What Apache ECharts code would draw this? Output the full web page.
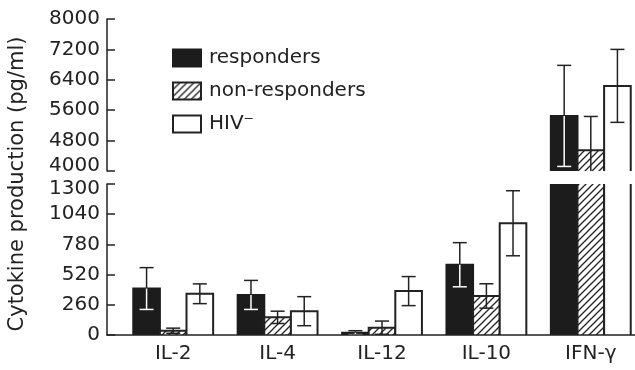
<!DOCTYPE html>
<html>
<head>
<meta charset="utf-8">
<script src="https://cdn.jsdelivr.net/npm/echarts@6/dist/echarts.min.js"></script>
<style>
html,body{margin:0;padding:0;background:#fff;}
#chart{width:635px;height:370px;}
</style>
</head>
<body>
<div id="chart"></div>
<script>
// ---- data ----
const categories = ['IL-2', 'IL-4', 'IL-12', 'IL-10', 'IFN-γ'];
const seriesNames = ['responders', 'non-responders', 'HIV⁻'];
const respondersMean = [400, 345, 20, 605, 5450];
const respondersErr = [180, 125, 17, 190, 1330];
const nonRespondersMean = [37, 152, 63, 336, 4545];
const nonRespondersErr = [22, 53, 57, 105, 890];
const hivNegMean = [355, 205, 378, 962, 6240];
const hivNegErr = [85, 125, 125, 280, 960];
const upperTicks = [4000, 8000, 800];   // min, max, interval
const lowerTicks = [0, 1300, 260];

// ---- styles ----
const FONT = 'DejaVu Sans';
const INK = '#222';
const BLACK = '#1c1c1c';
const BAR_FRAC = 0.255;

const hatchCanvas = document.createElement('canvas');
hatchCanvas.width = 7; hatchCanvas.height = 7;
(function () {
  const c = hatchCanvas.getContext('2d');
  c.fillStyle = '#fff'; c.fillRect(0, 0, 7, 7);
  c.strokeStyle = INK; c.lineWidth = 1.3;
  c.beginPath();
  c.moveTo(0, 7); c.lineTo(7, 0);
  c.moveTo(-1, 1); c.lineTo(1, -1);
  c.moveTo(6, 8); c.lineTo(8, 6);
  c.stroke();
})();
const hatch = { image: hatchCanvas, repeat: 'repeat' };

const means = [respondersMean, nonRespondersMean, hivNegMean];
const errs = [respondersErr, nonRespondersErr, hivNegErr];
const fills = [BLACK, hatch, '#fff'];
const strokes = [BLACK, INK, INK];
const innerErrColor = ['#fff', INK, INK];

function barRenderer(slot, fill, stroke) {
  return function (params, api) {
    const cs = params.coordSys;
    const cat = api.value(0), val = api.value(1);
    const band = api.size([1, 0])[0];
    const bw = band * BAR_FRAC;
    const pt = api.coord([cat, val]);
    const base = cs.y + cs.height;
    if (!(pt[1] < base)) return;
    const clipped = pt[1] < cs.y;
    const top = clipped ? cs.y : pt[1];
    const x0 = pt[0] + (slot - 1) * bw - bw / 2;
    const x1 = x0 + bw;
    const lw = 2;
    const children = [{ type: 'rect', shape: { x: x0, y: top, width: bw, height: base - top }, style: { fill: fill } }];
    if (clipped) {
      children.push({ type: 'line', shape: { x1: x0, y1: top, x2: x0, y2: base }, style: { stroke: stroke, lineWidth: lw } });
      children.push({ type: 'line', shape: { x1: x1, y1: top, x2: x1, y2: base }, style: { stroke: stroke, lineWidth: lw } });
    } else {
      children.push({ type: 'polyline', shape: { points: [[x0, base], [x0, top], [x1, top], [x1, base]] }, style: { stroke: stroke, lineWidth: lw, fill: null } });
    }
    return { type: 'group', children: children };
  };
}

function errRenderer(slot, innerColor) {
  return function (params, api) {
    const cs = params.coordSys;
    const cat = api.value(0), m = api.value(1), e = api.value(2);
    const band = api.size([1, 0])[0];
    const bw = band * BAR_FRAC;
    const pm = api.coord([cat, m]);
    const x = pm[0] + (slot - 1) * bw;
    const ph = api.coord([cat, m + e])[1];
    const pl = api.coord([cat, m - e])[1];
    const top = cs.y, base = cs.y + cs.height;
    const cap = 7;
    const children = [];
    function seg(yA, yB, color) {
      const a = Math.min(Math.max(yA, top), base);
      const b = Math.min(Math.max(yB, top), base);
      if (Math.abs(a - b) < 0.5) return;
      children.push({ type: 'line', shape: { x1: x, y1: a, x2: x, y2: b }, style: { stroke: color, lineWidth: 1.5 } });
      if (b === yB) children.push({ type: 'line', shape: { x1: x - cap, y1: b, x2: x + cap, y2: b }, style: { stroke: color, lineWidth: 1.5 } });
    }
    seg(pm[1], ph, INK);
    seg(pm[1], pl, innerColor);
    return { type: 'group', children: children };
  };
}

const series = [];
[0, 1].forEach(function (g) {
  for (let s = 0; s < 3; s++) {
    series.push({
      type: 'custom', name: seriesNames[s], xAxisIndex: g, yAxisIndex: g,
      encode: { x: 0, y: 1 },
      itemStyle: { color: fills[s], borderColor: s === 0 ? BLACK : INK, borderWidth: 1 },
      data: means[s].map(function (v, i) { return [i, v]; }),
      renderItem: barRenderer(s, fills[s], strokes[s]),
      z: 2
    });
  }
  for (let s = 0; s < 3; s++) {
    series.push({
      type: 'custom', xAxisIndex: g, yAxisIndex: g,
      encode: { x: 0, y: 1 },
      data: means[s].map(function (v, i) { return [i, v, errs[s][i]]; }),
      renderItem: errRenderer(s, innerErrColor[s]),
      z: 3, silent: true
    });
  }
});

// labels at the break are nudged apart (bottom of upper axis up, top of lower axis down)
function yAxisDef(gridIndex, t, nudgeValue, nudgeToken) {
  return {
    type: 'value', gridIndex: gridIndex, min: t[0], max: t[1], interval: t[2], offset: 14,
    axisLine: { show: true, lineStyle: { color: INK, width: 1.5 } },
    axisTick: { show: true, inside: true, length: 8, lineStyle: { color: INK, width: 1.5 } },
    axisLabel: {
      fontFamily: FONT, fontSize: 20, color: INK, margin: 7,
      formatter: function (v) { return v === nudgeValue ? '{' + nudgeToken + '|' + v + '}' : String(v); },
      rich: {
        up: { fontFamily: FONT, fontSize: 20, color: INK, padding: [0, 0, 10, 0] },
        down: { fontFamily: FONT, fontSize: 20, color: INK, padding: [10, 0, 0, 0] }
      }
    },
    splitLine: { show: false }
  };
}

const chart = echarts.init(document.getElementById('chart'), null, { renderer: 'canvas' });
chart.setOption({
  backgroundColor: '#fff',
  animation: false,
  grid: [
    { left: 121, width: 522, top: 19, height: 152, containLabel: false, outerBoundsMode: 'none' },
    { left: 121, width: 522, top: 184, height: 151, containLabel: false, outerBoundsMode: 'none' },
    { left: 107, right: 0, top: 184, height: 151, containLabel: false, outerBoundsMode: 'none' }
  ],
  xAxis: [
    { type: 'category', gridIndex: 0, data: categories, show: false },
    {
      type: 'category', gridIndex: 1, data: categories,
      axisLine: { show: false }, axisTick: { show: false },
      axisLabel: { fontFamily: FONT, fontSize: 20, color: INK, margin: 9, interval: 0 }
    },
    {
      type: 'value', gridIndex: 2, min: 0, max: 1, z: 10,
      axisLine: { show: true, lineStyle: { color: INK, width: 1.5 } },
      axisTick: { show: false }, axisLabel: { show: false }, splitLine: { show: false }
    }
  ],
  yAxis: [
    yAxisDef(0, upperTicks, upperTicks[0], 'up'),
    yAxisDef(1, lowerTicks, lowerTicks[1], 'down'),
    { type: 'value', gridIndex: 2, min: 0, max: 1, show: false }
  ],
  legend: {
    orient: 'vertical', left: 172, top: 48, padding: 0,
    icon: 'rect', itemWidth: 28, itemHeight: 17, itemGap: 13,
    data: seriesNames,
    textStyle: { fontFamily: FONT, fontSize: 20, color: INK, padding: [0, 0, 0, 3] },
    selectedMode: false
  },
  graphic: [{
    type: 'text', x: 18, y: 184, rotation: Math.PI / 2,
    style: { text: 'Cytokine production (pg/ml)', font: '21px "DejaVu Sans"', fill: INK, align: 'center', verticalAlign: 'middle' }
  }],
  series: series
});
</script>
</body>
</html>
